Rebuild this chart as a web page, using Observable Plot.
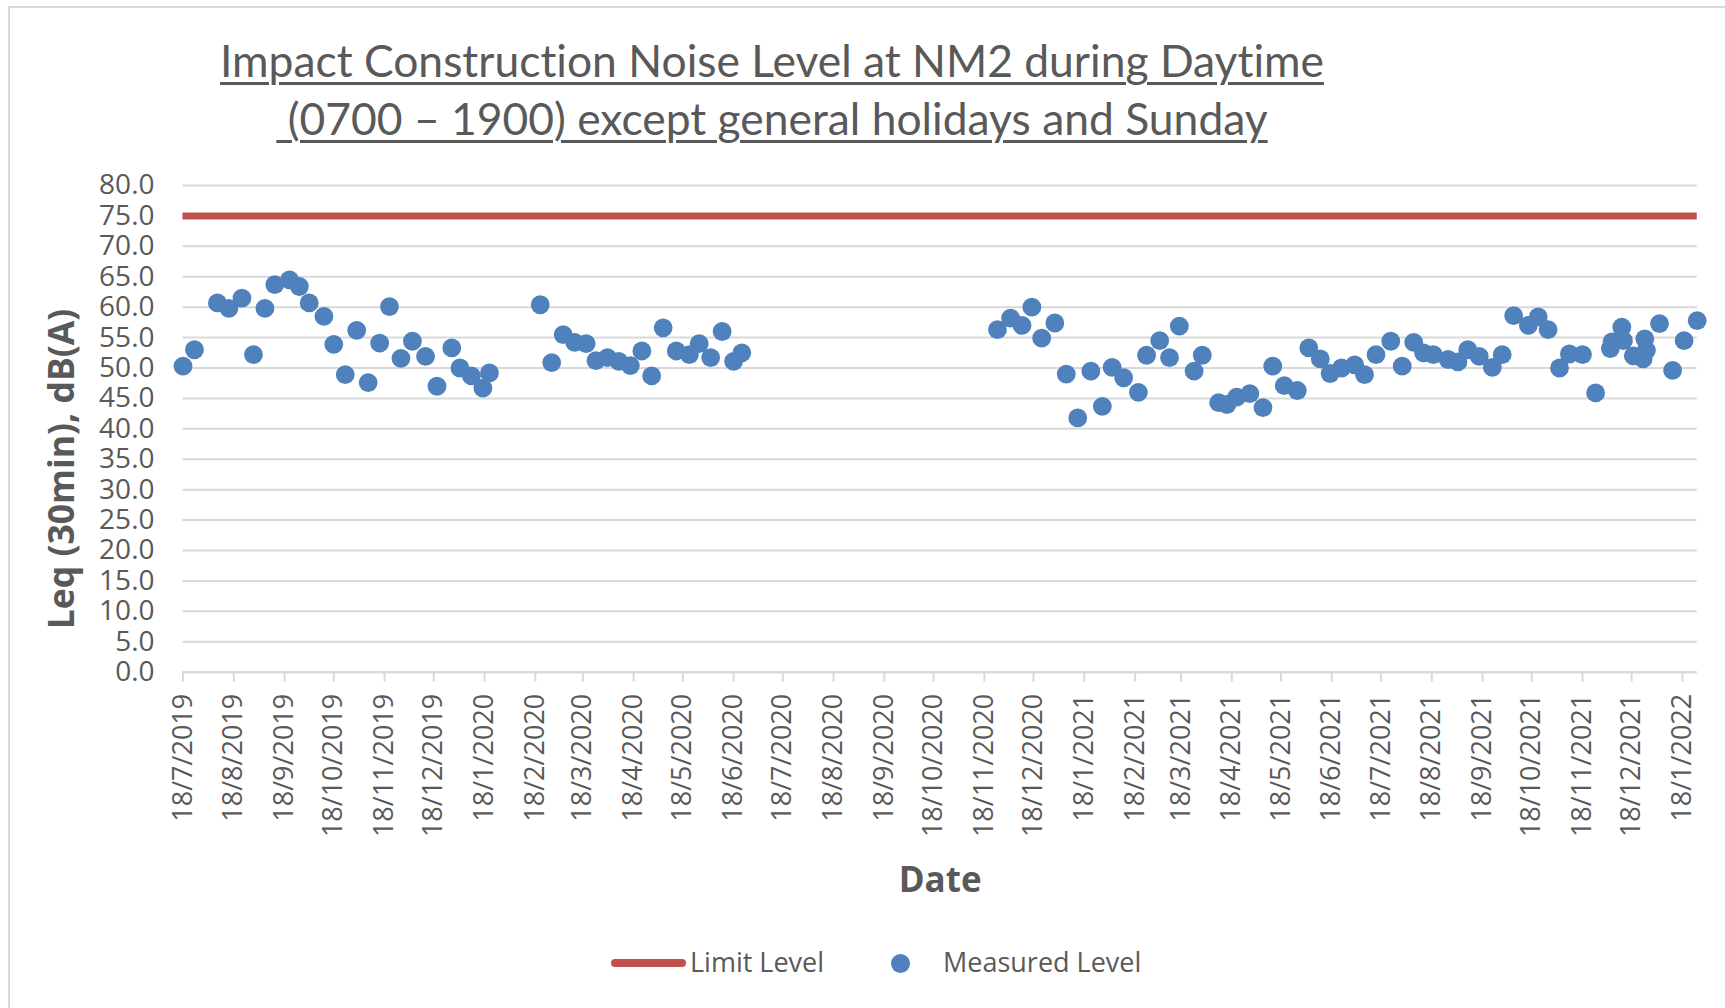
<!DOCTYPE html>
<html>
<head>
<meta charset="utf-8">
<script src="https://cdn.jsdelivr.net/npm/d3@7"></script>
<script src="https://cdn.jsdelivr.net/npm/@observablehq/plot@0.6"></script>
<style>
  html, body { margin: 0; padding: 0; background: #ffffff; }
  #page { position: relative; width: 1725px; height: 1008px; overflow: hidden; font-family: "Open Sans", sans-serif; color: #595959; }
  #frame { position: absolute; left: 8px; top: 6px; width: 1800px; height: 1100px; border: 2px solid #d9d9d9; box-sizing: border-box; }
  #title { position: absolute; left: 0; top: 31.3px; width: 1544px; text-align: center; font-family: Lato, sans-serif; font-size: 44.4px; line-height: 57.7px; color: #595959; white-space: pre; font-variant-ligatures: none; font-feature-settings: "liga" 0; }
  #title span { text-decoration: underline; text-decoration-thickness: 2.5px; text-underline-offset: 5px; }
  #chart { position: absolute; left: 0; top: 160px; }
  .leg-text { position: absolute; top: 942px; font-size: 27px; line-height: 40px; color: #595959; white-space: pre; }
  #leg-line { position: absolute; left: 611px; top: 959px; width: 75px; height: 8px; border-radius: 4px; background: #C0504D; }
  #leg-dot { position: absolute; left: 891px; top: 953.5px; width: 19px; height: 19px; border-radius: 50%; background: #4F81BD; }
</style>
</head>
<body>
<div id="page">
  <div id="frame"></div>
  <div id="title"><span>Impact Construction Noise Level at NM2 during Daytime</span><br><span> (0700 – 1900) except general holidays and Sunday</span></div>
  <div id="chart"></div>
  <div id="leg-line"></div>
  <div class="leg-text" style="left:690px">Limit Level</div>
  <div id="leg-dot"></div>
  <div class="leg-text" style="left:943px">Measured Level</div>
</div>
<script>
// ---- Data ----
const measuredDates = [
  "2019-07-18","2019-07-25","2019-08-08","2019-08-15","2019-08-23","2019-08-30","2019-09-06","2019-09-12",
  "2019-09-21","2019-09-27","2019-10-03","2019-10-12","2019-10-18","2019-10-25","2019-11-01","2019-11-08",
  "2019-11-15","2019-11-21","2019-11-28","2019-12-05","2019-12-13","2019-12-20","2019-12-29","2020-01-03",
  "2020-01-10","2020-01-17","2020-01-21","2020-02-21","2020-02-28","2020-03-06","2020-03-13","2020-03-20",
  "2020-03-26","2020-04-02","2020-04-09","2020-04-16","2020-04-23","2020-04-29","2020-05-06","2020-05-14",
  "2020-05-22","2020-05-28","2020-06-04","2020-06-11","2020-06-18","2020-06-23",
  "2020-11-26","2020-12-04","2020-12-11","2020-12-17","2020-12-23","2020-12-31","2021-01-07","2021-01-14",
  "2021-01-22","2021-01-29","2021-02-04","2021-02-11","2021-02-20","2021-02-25","2021-03-05","2021-03-11",
  "2021-03-17","2021-03-26","2021-03-31","2021-04-10","2021-04-15","2021-04-21","2021-04-29","2021-05-07",
  "2021-05-13","2021-05-20","2021-05-28","2021-06-04","2021-06-11","2021-06-17","2021-06-24","2021-07-02",
  "2021-07-08","2021-07-15","2021-07-24","2021-07-31","2021-08-07","2021-08-13","2021-08-19","2021-08-28",
  "2021-09-03","2021-09-09","2021-09-16","2021-09-24","2021-09-30","2021-10-07","2021-10-16","2021-10-22",
  "2021-10-28","2021-11-04","2021-11-10","2021-11-18","2021-11-26","2021-12-05","2021-12-06","2021-12-12",
  "2021-12-13","2021-12-19","2021-12-25","2021-12-26","2021-12-27","2022-01-04","2022-01-12","2022-01-19",
  "2022-01-27"
];
const measuredLevels = [
  50.3, 53.0, 60.7, 59.8, 61.5, 52.2, 59.8, 63.7,
  64.5, 63.4, 60.7, 58.5, 53.9, 48.9, 56.2, 47.6,
  54.1, 60.1, 51.6, 54.4, 51.9, 47.0, 53.3, 50.0,
  48.7, 46.7, 49.2, 60.4, 50.9, 55.5, 54.2, 54.0,
  51.2, 51.7, 51.1, 50.4, 52.8, 48.7, 56.6, 52.8,
  52.2, 54.0, 51.7, 56.0, 51.1, 52.5,
  56.3, 58.2, 57.0, 60.0, 54.9, 57.4, 49.0, 41.8,
  49.5, 43.7, 50.1, 48.4, 46.0, 52.1, 54.5, 51.7,
  56.9, 49.5, 52.1, 44.3, 44.0, 45.2, 45.8, 43.5,
  50.3, 47.1, 46.3, 53.3, 51.5, 49.1, 50.0, 50.5,
  48.9, 52.2, 54.4, 50.3, 54.2, 52.5, 52.2, 51.4,
  51.0, 53.0, 51.9, 50.1, 52.2, 58.6, 57.0, 58.4,
  56.3, 50.0, 52.3, 52.2, 45.9, 53.2, 54.3, 56.7,
  54.5, 52.0, 51.5, 54.8, 52.9, 57.3, 49.6, 54.5,
  57.8
];
const limitLevel = 75;
const xTickLabels = [
  "18/7/2019","18/8/2019","18/9/2019","18/10/2019","18/11/2019","18/12/2019",
  "18/1/2020","18/2/2020","18/3/2020","18/4/2020","18/5/2020","18/6/2020",
  "18/7/2020","18/8/2020","18/9/2020","18/10/2020","18/11/2020","18/12/2020",
  "18/1/2021","18/2/2021","18/3/2021","18/4/2021","18/5/2021","18/6/2021",
  "18/7/2021","18/8/2021","18/9/2021","18/10/2021","18/11/2021","18/12/2021",
  "18/1/2022"
];
const yTicks = [0,5,10,15,20,25,30,35,40,45,50,55,60,65,70,75,80];
const yLabel = "Leq (30min), dB(A)";
const xLabel = "Date";

// ---- Build ----
const parseDMY = s => { const [d, m, y] = s.split("/").map(Number); return new Date(Date.UTC(y, m - 1, d)); };
const fmtDMY = d => `${d.getUTCDate()}/${d.getUTCMonth() + 1}/${d.getUTCFullYear()}`;
const xTickDates = xTickLabels.map(parseDMY);
const data = measuredDates.map((s, i) => ({date: new Date(s + "T00:00:00Z"), level: measuredLevels[i]}));
const xDomain = [data[0].date, data[data.length - 1].date];

const H = 750, mT = 25, mB = 238.3, mL = 182.5, mR = 28.3;
const frameMidY = mT + (H - mT - mB) / 2;

const chart = Plot.plot({
  width: 1725,
  height: H,
  marginTop: mT,
  marginBottom: mB,
  marginLeft: mL,
  marginRight: mR,
  style: {fontFamily: "'Open Sans', sans-serif", fontSize: "27px", color: "#595959", background: "transparent", overflow: "visible"},
  x: {type: "utc", domain: xDomain, axis: null},
  y: {domain: [0, 80], axis: null},
  marks: [
    Plot.gridY({ticks: yTicks, stroke: "#d9d9d9", strokeOpacity: 1, strokeWidth: 2}),
    Plot.ruleY([0], {stroke: "#d9d9d9", strokeWidth: 2}),
    Plot.axisY({ticks: yTicks, tickSize: 0, tickPadding: 28.5, tickFormat: d => d.toFixed(1), fill: "#595959", fontSize: 28, label: null}),
    Plot.axisX({ticks: xTickDates, tickSize: 10, tickPadding: 11.6, tickRotate: -90, tickFormat: fmtDMY,
      stroke: "#d9d9d9", strokeWidth: 2, fill: "#595959", fontSize: 27, label: null}),
    Plot.ruleY([limitLevel], {stroke: "#C0504D", strokeWidth: 7}),
    Plot.dot(data, {x: "date", y: "level", r: 9.4, fill: "#4F81BD"}),
    Plot.text([yLabel], {text: d => d, frameAnchor: "left", rotate: -90, textAnchor: "middle", lineAnchor: "middle",
      dx: 62 - mL, dy: 468.5 - 160 - frameMidY, fontWeight: "bold", fontSize: 35.5, fill: "#595959"}),
    Plot.text([xLabel], {text: d => d, frameAnchor: "bottom", textAnchor: "middle", lineAnchor: "middle",
      dy: 208.8, fontWeight: "bold", fontSize: 35, fill: "#595959"})
  ]
});
document.getElementById("chart").appendChild(chart);
</script>
</body>
</html>
